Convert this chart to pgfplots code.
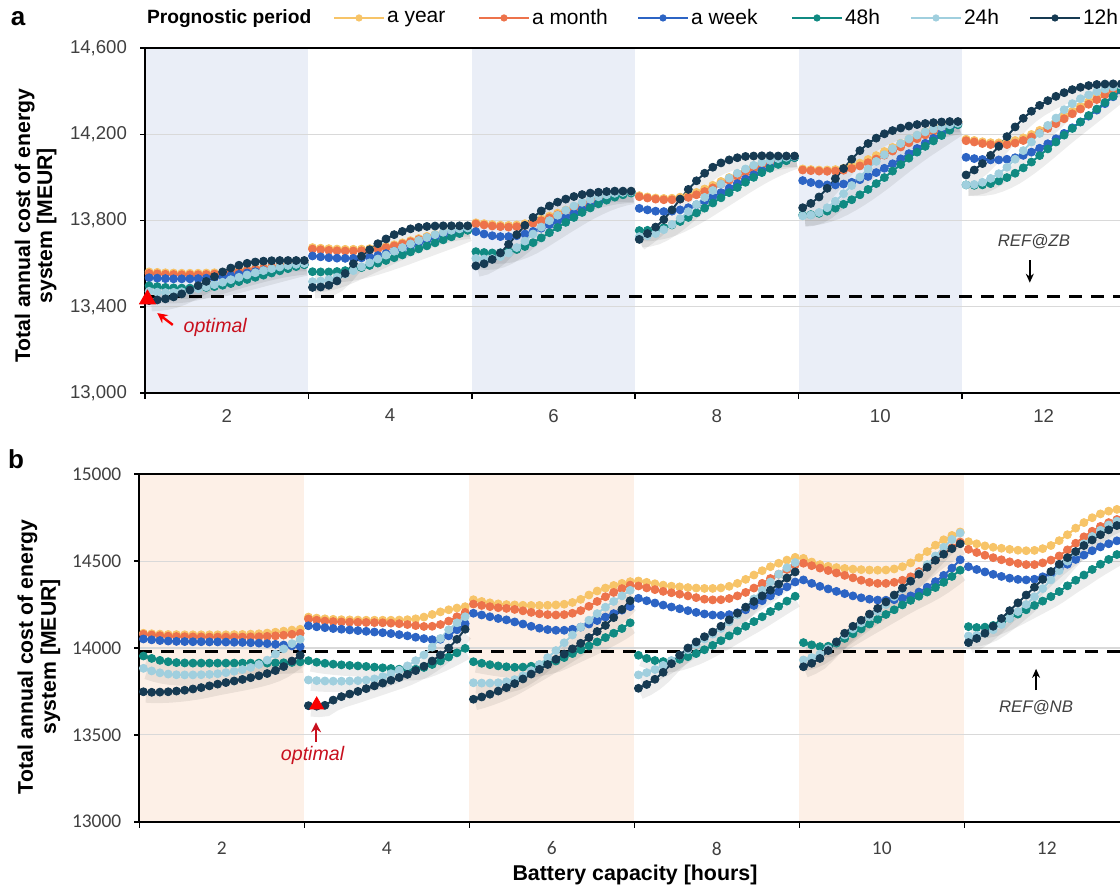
\documentclass[border=0pt]{standalone}
\usepackage{pgfplots}
\pgfplotsset{compat=1.18}
\usepackage{pgfplotstable}
\usepackage{fontspec}
\setmainfont{Liberation Sans}
\newfontfamily\calibri{Carlito}
\usetikzlibrary{arrows.meta}

\definecolor{cyear}{RGB}{247,196,104}
\definecolor{cmonth}{RGB}{237,115,75}
\definecolor{cweek}{RGB}{44,100,196}
\definecolor{cfortyeight}{RGB}{16,138,130}
\definecolor{ctwentyfour}{RGB}{160,207,222}
\definecolor{ctwelve}{RGB}{22,58,82}
\definecolor{bandA}{RGB}{234,238,247}
\definecolor{bandB}{RGB}{253,240,231}
\definecolor{gridgray}{RGB}{217,217,217}
\definecolor{tickgray}{RGB}{64,64,64}
\definecolor{optred}{RGB}{200,16,30}
\definecolor{trired}{RGB}{250,0,0}
\definecolor{refgray}{RGB}{64,64,64}

\pgfplotstableread{
x yr mo wk h48 h24 h12
1.05 13562 13555 13535 13498 13472 13429
1.15 13560 13553 13533 13494 13468 13432
1.25 13558 13551 13531 13490 13466 13437
1.35 13557 13550 13530 13488 13467 13446
1.45 13556 13549 13530 13487 13470 13460
1.55 13556 13549 13530 13487 13476 13478
1.65 13556 13549 13531 13488 13484 13498
1.75 13557 13550 13533 13490 13493 13518
1.85 13558 13552 13536 13494 13503 13540
1.95 13560 13555 13540 13500 13514 13562
2.05 13563 13559 13545 13508 13526 13580
2.15 13567 13564 13551 13517 13537 13593
2.25 13572 13569 13557 13527 13548 13602
2.35 13577 13574 13563 13537 13558 13608
2.45 13582 13579 13569 13547 13568 13612
2.55 13587 13584 13575 13557 13577 13614
2.65 13592 13589 13581 13567 13585 13615
2.75 13596 13594 13587 13577 13592 13615
2.85 13600 13598 13593 13587 13597 13615
2.95 13603 13602 13598 13595 13601 13615
nan nan nan nan nan nan nan
3.05 13675 13668 13636 13563 13517 13490
3.15 13672 13665 13632 13562 13520 13492
3.25 13670 13662 13628 13562 13527 13500
3.35 13668 13660 13626 13564 13538 13520
3.45 13667 13659 13625 13568 13552 13555
3.55 13667 13659 13625 13574 13568 13600
3.65 13668 13660 13627 13582 13586 13635
3.75 13670 13663 13631 13592 13604 13665
3.85 13674 13668 13638 13603 13622 13693
3.95 13680 13675 13647 13615 13640 13715
4.05 13688 13683 13658 13628 13658 13735
4.15 13697 13692 13670 13641 13675 13750
4.25 13707 13702 13683 13655 13692 13762
4.35 13717 13712 13696 13669 13708 13769
4.45 13727 13722 13709 13683 13722 13773
4.55 13736 13732 13721 13697 13735 13775
4.65 13745 13741 13733 13711 13746 13776
4.75 13752 13749 13744 13725 13755 13776
4.85 13758 13756 13753 13740 13762 13776
4.95 13763 13762 13760 13755 13766 13776
nan nan nan nan nan nan nan
5.05 13790 13785 13749 13656 13625 13590
5.15 13786 13780 13738 13652 13622 13600
5.25 13782 13775 13730 13650 13624 13620
5.35 13779 13772 13726 13651 13633 13650
5.45 13778 13770 13726 13656 13650 13690
5.55 13780 13772 13730 13666 13675 13735
5.65 13786 13778 13738 13680 13705 13778
5.75 13796 13788 13750 13698 13738 13815
5.85 13808 13800 13765 13720 13770 13845
5.95 13821 13813 13781 13744 13800 13868
6.05 13835 13827 13798 13768 13825 13886
6.15 13849 13842 13816 13792 13848 13900
6.25 13864 13857 13834 13815 13868 13912
6.35 13878 13872 13852 13838 13885 13921
6.45 13891 13886 13869 13859 13899 13928
6.55 13903 13899 13885 13878 13911 13932
6.65 13914 13910 13899 13895 13920 13935
6.75 13923 13920 13912 13909 13927 13937
6.85 13930 13928 13923 13920 13931 13937
6.95 13935 13934 13932 13928 13934 13937
nan nan nan nan nan nan nan
7.05 13916 13911 13857 13754 13726 13713
7.15 13910 13905 13850 13755 13730 13740
7.25 13905 13900 13844 13760 13740 13770
7.35 13903 13897 13842 13768 13758 13805
7.45 13904 13897 13844 13780 13782 13850
7.55 13909 13900 13850 13796 13810 13900
7.65 13918 13908 13860 13815 13842 13945
7.75 13931 13920 13874 13836 13875 13985
7.85 13947 13935 13891 13858 13908 14020
7.95 13964 13952 13910 13882 13940 14048
8.05 13982 13970 13930 13906 13970 14068
8.15 14000 13988 13951 13930 13997 14082
8.25 14018 14006 13972 13954 14020 14092
8.35 14035 14024 13993 13978 14040 14098
8.45 14051 14041 14013 14001 14057 14100
8.55 14065 14056 14032 14023 14070 14101
8.65 14077 14069 14050 14043 14080 14101
8.75 14087 14080 14066 14061 14088 14100
8.85 14094 14089 14080 14078 14094 14100
8.95 14098 14096 14093 14092 14098 14100
nan nan nan nan nan nan nan
9.05 14040 14035 13986 13826 13822 13860
9.15 14037 14032 13977 13828 13826 13880
9.25 14035 14030 13970 13834 13838 13910
9.35 14035 14029 13966 13844 13860 13950
9.45 14037 14030 13966 13858 13890 13995
9.55 14043 14034 13970 13876 13925 14042
9.65 14053 14042 13978 13897 13963 14085
9.75 14067 14054 13990 13920 14002 14125
9.85 14084 14069 14005 13945 14040 14158
9.95 14102 14086 14023 13972 14075 14183
10.05 14121 14104 14043 14000 14106 14203
10.15 14140 14123 14064 14030 14134 14218
10.25 14159 14142 14087 14060 14158 14230
10.35 14178 14161 14111 14090 14179 14239
10.45 14196 14180 14135 14118 14197 14246
10.55 14213 14198 14159 14145 14212 14251
10.65 14228 14215 14182 14170 14225 14255
10.75 14241 14230 14205 14195 14236 14258
10.85 14251 14243 14228 14220 14245 14260
10.95 14258 14254 14250 14245 14252 14260
nan nan nan nan nan nan nan
11.05 14178 14171 14094 13966 13966 14012
11.15 14172 14165 14088 13964 13968 14035
11.25 14166 14158 14084 13966 13978 14065
11.35 14162 14153 14082 13972 13996 14103
11.45 14161 14151 14082 13984 14018 14145
11.55 14164 14153 14085 14000 14048 14190
11.65 14172 14160 14092 14020 14085 14235
11.75 14184 14172 14103 14045 14125 14275
11.85 14200 14188 14118 14072 14165 14308
11.95 14219 14207 14136 14102 14205 14335
12.05 14240 14228 14157 14133 14242 14357
12.15 14262 14250 14180 14165 14276 14377
12.25 14285 14273 14205 14197 14315 14394
12.35 14308 14296 14231 14228 14343 14408
12.45 14330 14318 14258 14258 14366 14419
12.55 14352 14340 14285 14288 14384 14427
12.65 14373 14362 14313 14318 14399 14432
12.75 14394 14384 14343 14348 14411 14434
12.85 14413 14405 14375 14378 14420 14435
12.95 14430 14425 14405 14408 14428 14435
}\dataA

\pgfplotstableread{
x yr mo wk h48 h24 h12
1.05 14085 14079 14052 13954 13883 13748
1.15 14082 14075 14047 13940 13868 13745
1.25 14080 14071 14043 13929 13857 13746
1.35 14078 14068 14040 13921 13850 13748
1.45 14077 14066 14038 13916 13846 13752
1.55 14076 14065 14037 13914 13845 13757
1.65 14076 14064 14036 13913 13845 13764
1.75 14076 14064 14036 13913 13846 13772
1.85 14076 14063 14035 13913 13848 13782
1.95 14076 14063 14035 13913 13852 13792
2.05 14076 14063 14034 13913 13858 13801
2.15 14077 14063 14033 13913 13866 13810
2.25 14078 14063 14032 13913 13876 13819
2.35 14080 14064 14030 13913 13888 13829
2.45 14082 14065 14028 13913 13905 13840
2.55 14086 14067 14025 13913 13930 13853
2.65 14091 14070 14021 13914 13965 13870
2.75 14097 14074 14017 13915 13995 13893
2.85 14103 14079 14012 13917 14025 13925
2.95 14108 14085 14008 13920 14050 13958
nan nan nan nan nan nan nan
3.05 14178 14167 14128 13927 13816 13668
3.15 14172 14160 14122 13918 13812 13665
3.25 14168 14155 14117 13912 13810 13670
3.35 14165 14152 14112 13907 13809 13700
3.45 14163 14150 14108 13903 13809 13720
3.55 14162 14149 14104 13900 13810 13735
3.65 14161 14148 14100 13897 13812 13750
3.75 14160 14147 14096 13894 13815 13766
3.85 14160 14146 14092 13890 13822 13782
3.95 14160 14145 14088 13886 13835 13798
4.05 14160 14143 14083 13882 13852 13814
4.15 14161 14140 14077 13878 13872 13830
4.25 14163 14135 14070 13876 13897 13848
4.35 14168 14129 14062 13878 13927 13870
4.45 14178 14124 14054 13888 13960 13895
4.55 14193 14125 14048 13905 14005 13925
4.65 14208 14135 14050 13925 14055 13960
4.75 14220 14155 14070 13948 14105 14000
4.85 14230 14180 14105 13972 14145 14050
4.95 14238 14205 14140 13998 14180 14108
nan nan nan nan nan nan nan
5.05 14278 14253 14200 13921 13800 13705
5.15 14268 14245 14190 13912 13798 13718
5.25 14260 14238 14180 13904 13798 13734
5.35 14254 14232 14170 13897 13800 13752
5.45 14250 14228 14162 13892 13806 13772
5.55 14248 14222 14150 13889 13818 13795
5.65 14246 14214 14138 13890 13840 13822
5.75 14245 14205 14125 13895 13870 13850
5.85 14245 14197 14114 13903 13905 13877
5.95 14246 14192 14106 13913 13945 13905
6.05 14248 14190 14102 13925 13985 13935
6.15 14252 14192 14102 13945 14030 13965
6.25 14262 14200 14108 13968 14075 13995
6.35 14280 14215 14120 13990 14120 14027
6.45 14305 14240 14138 14012 14160 14060
6.55 14328 14268 14158 14035 14198 14095
6.65 14345 14295 14178 14060 14235 14130
6.75 14360 14320 14198 14085 14268 14175
6.85 14372 14342 14218 14112 14300 14222
6.95 14382 14362 14238 14145 14332 14272
nan nan nan nan nan nan nan
7.05 14386 14357 14286 13958 13845 13768
7.15 14378 14346 14272 13940 13858 13790
7.25 14370 14336 14259 13928 13876 13820
7.35 14362 14326 14247 13922 13900 13860
7.45 14356 14318 14236 13925 13928 13910
7.55 14352 14310 14226 13935 13958 13958
7.65 14348 14300 14215 13950 13990 14000
7.75 14345 14290 14205 13968 14022 14035
7.85 14343 14281 14196 13990 14052 14065
7.95 14343 14277 14190 14015 14080 14092
8.05 14346 14278 14188 14042 14112 14125
8.15 14355 14285 14192 14070 14150 14162
8.25 14372 14300 14203 14098 14190 14200
8.35 14395 14320 14220 14125 14235 14235
8.45 14420 14345 14245 14152 14283 14268
8.55 14445 14372 14272 14180 14332 14300
8.65 14468 14400 14300 14210 14380 14333
8.75 14488 14425 14325 14240 14425 14368
8.85 14506 14452 14352 14270 14462 14403
8.95 14522 14478 14380 14298 14492 14438
nan nan nan nan nan nan nan
9.05 14516 14488 14392 14031 13931 13892
9.15 14495 14474 14372 14018 13945 13912
9.25 14480 14460 14355 14008 13965 13940
9.35 14470 14446 14340 14010 13995 13985
9.45 14463 14432 14326 14028 14035 14035
9.55 14458 14418 14313 14055 14075 14085
9.65 14454 14404 14300 14082 14110 14125
9.75 14451 14390 14289 14110 14145 14160
9.85 14449 14378 14281 14138 14180 14195
9.95 14448 14372 14276 14165 14212 14228
10.05 14449 14372 14275 14193 14250 14265
10.15 14455 14378 14278 14220 14295 14305
10.25 14468 14390 14286 14248 14340 14345
10.35 14490 14410 14300 14274 14385 14385
10.45 14520 14440 14322 14298 14430 14425
10.55 14555 14475 14350 14322 14480 14465
10.65 14592 14510 14382 14348 14530 14505
10.75 14623 14545 14418 14378 14580 14540
10.85 14648 14578 14460 14412 14625 14572
10.95 14668 14610 14508 14448 14662 14600
nan nan nan nan nan nan nan
11.05 14612 14568 14468 14123 14069 14031
11.15 14600 14550 14452 14118 14072 14055
11.25 14588 14534 14438 14120 14085 14085
11.35 14580 14520 14424 14130 14105 14125
11.45 14574 14508 14412 14150 14135 14170
11.55 14568 14496 14402 14172 14170 14215
11.65 14563 14487 14395 14195 14210 14260
11.75 14560 14480 14392 14220 14250 14305
11.85 14562 14480 14396 14245 14295 14350
11.95 14572 14490 14410 14270 14342 14395
12.05 14590 14506 14430 14296 14392 14440
12.15 14618 14530 14455 14325 14445 14482
12.25 14652 14565 14482 14358 14500 14520
12.35 14690 14603 14510 14390 14552 14555
12.45 14722 14640 14535 14420 14600 14590
12.55 14750 14672 14560 14452 14642 14622
12.65 14772 14700 14582 14482 14678 14652
12.75 14788 14722 14600 14510 14708 14680
12.85 14798 14740 14617 14538 14730 14705
12.95 14804 14755 14632 14564 14747 14728
}\dataB

\pgfplotsset{
  ser/.style={color=#1, mark=*, mark size=2pt, line width=1pt,
    mark options={line width=0.4pt, solid}},
  shad/.style={forget plot, draw=black, draw opacity=0.07, line width=4.5pt,
    mark=none, xshift=1.2pt, yshift=-3.2pt},
  common/.style={
    set layers, clip=false, scale only axis,
    xmin=1, xmax=13.3,
    xtick={2,4,...,12}, minor xtick={1,3,...,13},
    scaled y ticks=false, scaled x ticks=false,
    tick align=outside, tick pos=left,
    major tick length=2.5pt, minor tick length=3pt,
    major x tick style={draw=none},
    every tick/.append style={black, line width=0.8pt},
    axis line style={line width=1pt, black},
    ymajorgrids, grid style={gridgray, line width=0.6pt},
    unbounded coords=jump,
    /pgf/number format/assume math mode=true,
    legend image code/.code={\draw[mark repeat=2,mark phase=2,##1,mark size=1.6pt] plot coordinates {(0pt,0pt) (12.5pt,0pt) (25pt,0pt)};},
  },
}

\begin{document}
\begin{tikzpicture}
% ---------------- panel a ----------------
\begin{axis}[common,
  width=502.455pt, height=172.35pt,
  at={(72.5pt,248.5pt)}, anchor=south west,
  ymin=13000, ymax=14600, ytick={13000,13400,...,14600},
  /pgf/number format/1000 sep={,},
  yticklabel style={font=\fontsize{9.3}{11}\selectfont, text=tickgray, xshift=-3pt},
  xticklabel style={font=\fontsize{9.3}{11}\selectfont, text=tickgray, yshift=-2pt},
  ylabel={Total annual cost of energy\\system [MEUR]},
  ylabel style={align=center, font=\bfseries\fontsize{10.6}{11}\selectfont,
    at={(axis description cs:-0.1087,0.485)}, anchor=center},
  legend style={at={(axis description cs:0.002,1.088)}, anchor=west,
    draw=none, fill=none, inner sep=0pt, outer sep=0pt,
    column sep=0pt, legend columns=-1,
    nodes={inner sep=0pt, outer sep=0pt},
    font=\fontsize{10.5}{12}\selectfont},
]
\addlegendimage{empty legend}
\addlegendentry{\makebox[93pt][l]{\fontsize{9.6}{11}\selectfont\bfseries Prognostic period}}
\addplot[forget plot, fill=bandA, draw=none, on layer=axis background] coordinates {(1,13000) (1,14600) (3,14600) (3,13000)} -- cycle;
\addplot[forget plot, fill=bandA, draw=none, on layer=axis background] coordinates {(5,13000) (5,14600) (7,14600) (7,13000)} -- cycle;
\addplot[forget plot, fill=bandA, draw=none, on layer=axis background] coordinates {(9,13000) (9,14600) (11,14600) (11,13000)} -- cycle;
\addplot[forget plot, black, line width=1.5pt, dash pattern=on 6.5pt off 4.5pt] coordinates {(1,13448) (13.3,13448)};
\addplot[shad] table[x=x, y=h48] {\dataA};
\addplot[shad] table[x=x, y=h24] {\dataA};
\addplot[shad] table[x=x, y=h12] {\dataA};
\addplot[ser=cyear] table[x=x, y=yr] {\dataA};
\addlegendentry{\makebox[46.5pt][l]{\hspace{1pt}a year}}
\addplot[ser=cmonth] table[x=x, y=mo] {\dataA};
\addlegendentry{\makebox[53.5pt][l]{\hspace{1pt}a month}}
\addplot[ser=cweek] table[x=x, y=wk] {\dataA};
\addlegendentry{\makebox[51pt][l]{\hspace{1pt}a week}}
\addplot[ser=cfortyeight] table[x=x, y=h48] {\dataA};
\addlegendentry{\makebox[33.5pt][l]{\hspace{1pt}48h}}
\addplot[ser=ctwentyfour] table[x=x, y=h24] {\dataA};
\addlegendentry{\makebox[33.5pt][l]{\hspace{1pt}24h}}
\addplot[ser=ctwelve] table[x=x, y=h12] {\dataA};
\addlegendentry{\hspace{1pt}12h}
\addplot[forget plot, only marks, mark=triangle*, mark size=4.6pt, color=trired] coordinates {(1.03,13435)};
\draw[-{Stealth[length=5pt,width=5pt]}, trired, line width=1.2pt] (axis cs:1.34,13316) -- (axis cs:1.15,13371);
\node[font=\itshape\fontsize{9.8}{11}\selectfont, text=optred] at (axis cs:1.86,13306) {optimal};
\node[font=\itshape\fontsize{8.4}{10}\selectfont, text=refgray] at (axis cs:11.88,13701) {REF@ZB};
\draw[-{Stealth[length=4.5pt,width=4pt]}, black, line width=0.9pt] (axis cs:11.83,13617) -- (axis cs:11.83,13512);
\end{axis}

% ---------------- panel b ----------------
\begin{axis}[common,
  width=507.375pt, height=173.7pt,
  at={(69.65pt,34.15pt)}, anchor=south west,
  ymin=13000, ymax=15000, ytick={13000,13500,...,15000},
  /pgf/number format/1000 sep={},
  yticklabel style={font=\calibri\fontsize{9.7}{11}\selectfont, text=tickgray, xshift=-3pt},
  xticklabel style={font=\calibri\fontsize{9.7}{11}\selectfont, text=tickgray, yshift=-4pt},
  ylabel={Total annual cost of energy\\system [MEUR]},
  ylabel style={align=center, font=\bfseries\fontsize{10.6}{11.5}\selectfont,
    at={(axis description cs:-0.099,0.474)}, anchor=center},
  xlabel={Battery capacity [hours]},
  xlabel style={font=\bfseries\fontsize{10.7}{12}\selectfont,
    at={(axis description cs:0.4885,-0.1534)}, anchor=center},
]
\addplot[forget plot, fill=bandB, draw=none, on layer=axis background] coordinates {(1,13000) (1,15000) (3,15000) (3,13000)} -- cycle;
\addplot[forget plot, fill=bandB, draw=none, on layer=axis background] coordinates {(5,13000) (5,15000) (7,15000) (7,13000)} -- cycle;
\addplot[forget plot, fill=bandB, draw=none, on layer=axis background] coordinates {(9,13000) (9,15000) (11,15000) (11,13000)} -- cycle;
\addplot[forget plot, black, line width=1.5pt, dash pattern=on 6.5pt off 4.5pt] coordinates {(1,13977) (13.3,13977)};
\addplot[shad] table[x=x, y=h48] {\dataB};
\addplot[shad] table[x=x, y=h24] {\dataB};
\addplot[shad] table[x=x, y=h12] {\dataB};
\addplot[ser=cyear] table[x=x, y=yr] {\dataB};
\addplot[ser=cmonth] table[x=x, y=mo] {\dataB};
\addplot[ser=cweek] table[x=x, y=wk] {\dataB};
\addplot[ser=cfortyeight] table[x=x, y=h48] {\dataB};
\addplot[ser=ctwentyfour] table[x=x, y=h24] {\dataB};
\addplot[ser=ctwelve] table[x=x, y=h12] {\dataB};
\addplot[forget plot, only marks, mark=triangle*, mark size=4pt, color=trired] coordinates {(3.15,13672)};
\draw[-{Stealth[length=5pt,width=5pt]}, optred, line width=1.2pt] (axis cs:3.142,13459) -- (axis cs:3.142,13572);
\node[font=\itshape\fontsize{9.8}{11}\selectfont, text=optred] at (axis cs:3.10,13384) {optimal};
\node[font=\itshape\fontsize{8.4}{10}\selectfont, text=refgray] at (axis cs:11.87,13655) {REF@NB};
\draw[-{Stealth[length=4.5pt,width=4pt]}, black, line width=0.9pt] (axis cs:11.87,13758) -- (axis cs:11.87,13880);
\end{axis}

\node[font=\bfseries\fontsize{13}{15}\selectfont] at (9pt,435.5pt) {a};
\node[font=\bfseries\fontsize{13}{15}\selectfont] at (8pt,215.5pt) {b};
\pgfresetboundingbox
\path[use as bounding box] (0,0) rectangle (560pt,445pt);
\end{tikzpicture}
\end{document}
